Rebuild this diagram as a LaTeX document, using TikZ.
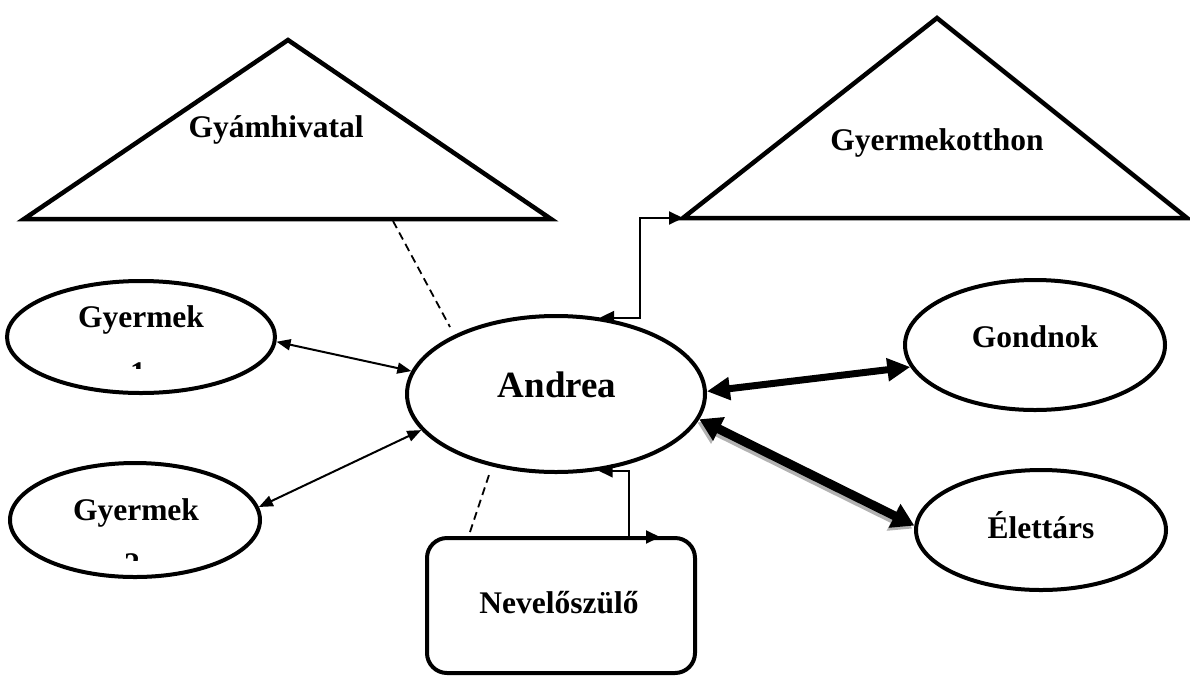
\documentclass[tikz,border=0pt]{standalone}
\usepackage{fontspec}
\setmainfont{Liberation Serif}
\usetikzlibrary{arrows.meta,shapes.geometric,calc}
\begin{document}
\begin{tikzpicture}[x=1pt,y=-1pt,
  ell/.style={draw, line width=4pt, ellipse, inner sep=0pt},
  lbl/.style={font=\bfseries\fontsize{31.5}{36}\selectfont, inner sep=0pt, anchor=base},
  bigl/.style={font=\bfseries\fontsize{37}{42}\selectfont, inner sep=0pt, anchor=base},
  tri/.style={draw, line width=4.5pt, line join=miter},
  thinarr/.style={line width=2pt, {Triangle[length=14pt,width=11pt]}-{Triangle[length=14pt,width=11pt]}},
  elbarr/.style={line width=2pt, {Triangle[length=14pt,width=13pt]}-{Triangle[length=14pt,width=13pt]}},
  heavyarr/.style={line width=7pt, {Triangle[length=23pt,width=22pt]}-{Triangle[length=23pt,width=22pt]}},
  heaviest/.style={line width=9pt, {Triangle[length=22pt,width=25pt]}-{Triangle[length=22pt,width=25pt]}},
  dashline/.style={line width=1.8pt, dash pattern=on 8pt off 5pt}
]
\useasboundingbox (0,0) rectangle (1190,675);

% triangles
\coordinate (gyh-a) at (288,40);
\coordinate (gyh-l) at (24,219);
\coordinate (gyh-r) at (551,219);
\draw[tri] (gyh-a) -- (gyh-l) -- (gyh-r) -- cycle;
\coordinate (gyo-a) at (937,18);
\coordinate (gyo-l) at (683,218);
\coordinate (gyo-r) at (1187,218);
\draw[tri] (gyo-a) -- (gyo-l) -- (gyo-r) -- cycle;

% ellipses and box
\node[ell, minimum width=268pt, minimum height=112pt] (g1) at (141,337) {};
\node[ell, minimum width=250pt, minimum height=114pt] (g2) at (135,520) {};
\node[ell, minimum width=298pt, minimum height=156pt] (andrea) at (556,394) {};
\node[ell, minimum width=260pt, minimum height=130pt] (gondnok) at (1035,345) {};
\node[ell, minimum width=250pt, minimum height=120pt] (elettars) at (1041,530) {};
\node[draw, line width=4pt, rounded corners=20pt, minimum width=268pt, minimum height=135pt, inner sep=0pt] (nevelo) at (561,605.5) {};

% labels
\node[lbl] (gyhl) at (276,137) {Gyámhivatal};
\node[lbl] (gyol) at (937,150) {Gyermekotthon};
\node[lbl] (g1l) at (141,327) {Gyermek};
\begin{scope}
  \clip (0,0) rectangle (1190,368);
  \node[lbl] (g1n) at (138,383) {1};
\end{scope}
\node[lbl] (g2l) at (136,520) {Gyermek};
\begin{scope}
  \clip (0,0) rectangle (1190,560);
  \node[lbl] (g2n) at (132,574) {2};
\end{scope}
\node[bigl] (andreal) at (557,397) {Andrea};
\node[lbl] (gondnokl) at (1035,347) {Gondnok};
\node[lbl] (elettarsl) at (1041,538) {Élettárs};
\node[lbl] (nevelol) at (559,613) {Nevelőszülő};

% connectors
\draw[thinarr] (g1.-2) -- (andrea.171);
\draw[thinarr] (g2.6) -- (andrea.195);
\draw[heavyarr] (andrea.1) -- (gondnok.190.7);
\draw[heaviest, draw=gray!60, fill=gray!60, transform canvas={xshift=-2pt,yshift=-3pt}] (andrea.-10) -- (elettars.178.6);
\draw[heaviest] (andrea.-10) -- (elettars.178.6);

\coordinate (elb1) at (640,218);
\draw[elbarr] (andrea.60) -- (andrea.60 -| elb1) -- (elb1) -- (gyo-l);

\coordinate (nevtip) at (660,537);
\coordinate (elb2) at (629,537);
\draw[elbarr] (andrea.-61) -- (andrea.-61 -| elb2) -- (elb2) -- (nevtip);

\coordinate (d1a) at (393,221);
\coordinate (d1b) at (450,327);
\draw[dashline] (d1a) -- (d1b);
\coordinate (d2a) at (470,532);
\coordinate (d2b) at (490,472);
\draw[dashline] (d2a) -- (d2b);
\end{tikzpicture}
\end{document}
